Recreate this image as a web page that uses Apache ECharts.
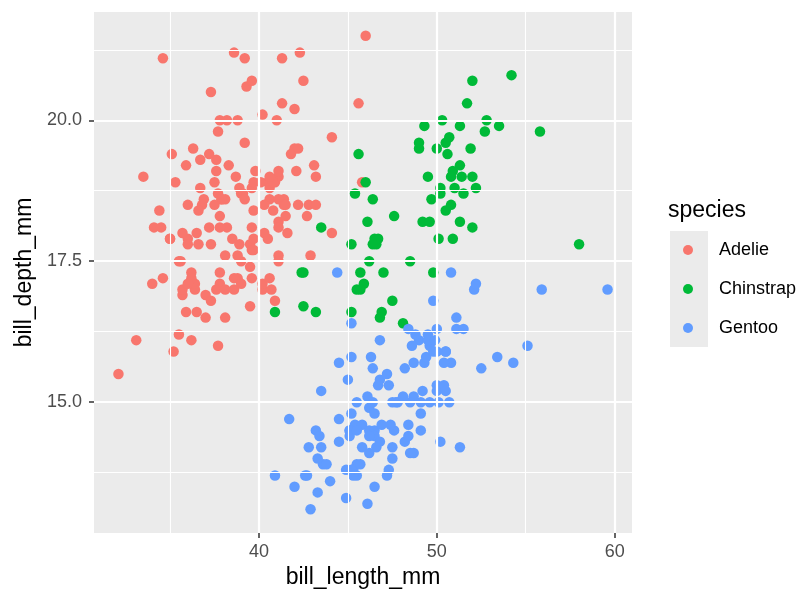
<!DOCTYPE html>
<html>
<head>
<meta charset="utf-8">
<script src="https://cdn.jsdelivr.net/npm/echarts@6/dist/echarts.min.js"></script>
<style>
  html, body { margin: 0; padding: 0; background: #fff; }
  #chart { width: 805px; height: 591px; }
</style>
</head>
<body>
<div id="chart"></div>
<script>
var speciesNames = ['Adelie', 'Chinstrap', 'Gentoo'];
var speciesColors = ['#F8766D', '#00BA38', '#619CFF'];

var adelieLength = [39.1, 39.5, 40.3, 36.7, 39.3, 38.9, 39.2, 34.1, 42.0, 37.8, 37.8, 41.1, 38.6, 34.6, 36.6, 38.7, 42.5, 34.4, 46.0,
  37.8, 37.7, 35.9, 38.2, 38.8, 35.3, 40.6, 40.5, 37.9, 40.5, 39.5, 37.2, 39.5, 40.9, 36.4, 39.2, 38.8, 42.2, 37.6, 39.8,
  36.5, 40.8, 36.0, 44.1, 37.0, 39.6, 41.1, 37.5, 36.0, 42.3, 39.6, 40.1, 35.0, 42.0, 34.5, 41.4, 39.0, 40.6, 36.5, 37.6,
  35.7, 41.3, 37.6, 41.1, 36.4, 41.6, 35.5, 41.1, 35.9, 41.8, 33.5, 39.7, 39.6, 45.8, 35.5, 42.8, 40.9, 37.2, 36.2, 42.1,
  34.6, 42.9, 36.7, 35.1, 37.3, 41.3, 36.3, 36.9, 38.3, 38.9, 35.7, 41.1, 34.0, 39.6, 36.2, 40.8, 38.1, 40.3, 33.1, 43.2,
  35.0, 41.0, 37.7, 37.8, 37.9, 39.7, 38.6, 38.2, 38.1, 43.2, 38.1, 45.6, 39.7, 42.2, 39.6, 42.7, 38.6, 37.3, 35.7, 41.1,
  36.2, 37.7, 40.2, 41.4, 35.2, 40.6, 38.8, 41.5, 39.0, 44.1, 38.5, 43.1, 36.8, 37.5, 38.1, 41.1, 35.6, 40.2, 37.0, 39.7,
  40.2, 40.6, 32.1, 40.7, 37.3, 39.0, 39.2, 36.6, 36.0, 37.8, 36.0, 41.5];
var adelieDepth = [18.7, 17.4, 18.0, 19.3, 20.6, 17.8, 19.6, 18.1, 20.2, 17.1, 17.3, 17.6, 21.2, 21.1, 17.8, 19.0, 20.7, 18.4, 21.5,
  18.3, 18.7, 19.2, 18.1, 17.2, 18.9, 18.6, 17.9, 18.6, 18.9, 16.7, 18.1, 17.8, 18.9, 17.0, 21.1, 20.0, 18.5, 19.3, 19.1,
  18.0, 18.4, 18.5, 19.7, 16.9, 18.8, 19.0, 18.9, 17.9, 21.2, 17.7, 18.9, 17.9, 19.5, 18.1, 18.6, 17.5, 18.8, 16.6, 19.1,
  16.9, 21.1, 17.0, 18.2, 17.1, 18.0, 16.2, 19.1, 16.6, 19.4, 19.0, 18.4, 17.2, 18.9, 17.5, 18.5, 16.8, 19.4, 16.1, 19.1,
  17.2, 17.6, 18.8, 19.4, 17.8, 20.3, 19.5, 18.6, 19.2, 18.8, 18.0, 18.1, 17.1, 18.1, 17.3, 18.9, 18.6, 18.5, 16.1, 18.5,
  17.9, 20.0, 16.0, 20.0, 18.6, 18.9, 17.2, 20.0, 17.0, 19.0, 16.5, 20.3, 17.7, 19.5, 20.7, 18.3, 17.0, 20.5, 17.0, 18.6,
  17.2, 19.8, 17.0, 18.5, 15.9, 19.0, 17.6, 18.3, 17.1, 18.0, 17.9, 19.2, 18.5, 18.5, 17.6, 17.5, 17.5, 20.1, 16.5, 17.9,
  17.1, 17.2, 15.5, 17.0, 16.8, 18.7, 18.6, 18.4, 17.8, 18.1, 17.1, 18.5];

var chinstrapLength = [46.5, 50.0, 51.3, 45.4, 52.7, 45.2, 46.1, 51.3, 46.0, 51.3, 46.6, 51.7, 47.0, 52.0, 45.9, 50.5, 50.3,
  58.0, 46.4, 49.2, 42.4, 48.5, 43.2, 50.6, 46.7, 52.0, 50.5, 49.5, 46.4, 52.8, 40.9, 54.2, 42.5, 51.0, 49.7, 47.5, 47.6,
  52.0, 46.9, 53.5, 49.0, 46.2, 50.9, 45.5, 50.9, 50.8, 50.1, 49.0, 51.5, 49.8, 48.1, 51.4, 45.7, 50.7, 42.5, 52.2, 45.2,
  49.3, 50.2, 45.6, 51.9, 46.8, 45.7, 55.8, 43.5, 49.6, 50.8, 50.2];
var chinstrapDepth = [17.9, 19.5, 19.2, 18.7, 19.8, 17.8, 18.2, 18.2, 18.9, 19.9, 17.8, 20.3, 17.3, 18.1, 17.1, 19.6, 20.0,
  17.8, 18.6, 18.2, 17.3, 17.5, 16.6, 19.4, 17.9, 19.0, 18.4, 19.0, 17.8, 20.0, 16.6, 20.8, 16.7, 18.8, 18.6, 16.8, 18.3,
  20.7, 16.6, 19.9, 19.5, 17.5, 19.1, 17.0, 17.9, 18.5, 17.9, 19.6, 18.7, 17.3, 16.4, 19.0, 17.3, 19.7, 17.3, 18.8, 16.6,
  19.9, 18.8, 19.4, 19.5, 16.5, 17.0, 19.8, 18.1, 18.2, 19.0, 18.7];

var gentooLength = [46.1, 50.0, 48.7, 50.0, 47.6, 46.5, 45.4, 46.7, 43.3, 46.8, 40.9, 49.0, 45.5, 48.4, 45.8, 49.3, 42.0, 49.2,
  46.2, 48.7, 50.2, 45.1, 46.5, 46.3, 42.9, 46.1, 44.5, 47.8, 48.2, 50.0, 47.3, 42.8, 45.1, 59.6, 49.1, 48.4, 42.6, 44.4,
  44.0, 48.7, 42.7, 49.6, 45.3, 49.6, 50.5, 43.6, 45.5, 50.5, 44.9, 45.2, 46.6, 48.5, 45.1, 50.1, 46.5, 45.0, 43.8, 45.5,
  43.2, 50.4, 45.3, 46.2, 45.7, 54.3, 45.8, 49.8, 46.2, 49.5, 43.5, 50.7, 47.7, 46.4, 48.2, 46.5, 46.4, 48.6, 47.5, 51.1,
  45.2, 45.2, 49.1, 52.5, 47.4, 50.0, 44.9, 50.8, 43.4, 51.3, 47.5, 52.1, 47.5, 52.2, 45.5, 49.5, 44.5, 50.8, 49.4, 46.9,
  48.4, 51.1, 48.5, 55.9, 47.2, 49.1, 47.3, 46.8, 41.7, 53.4, 43.3, 48.1, 50.5, 49.8, 43.5, 51.5, 46.2, 55.1, 44.5, 48.8,
  47.2, 46.8, 50.4, 45.2, 49.9];
var gentooDepth = [13.2, 16.3, 14.1, 15.2, 14.5, 13.5, 14.6, 15.3, 13.4, 15.4, 13.7, 16.1, 13.7, 14.6, 14.6, 15.7, 13.5, 15.2,
  14.5, 15.1, 14.3, 14.5, 14.5, 15.8, 13.1, 15.1, 14.3, 15.0, 14.3, 15.3, 15.3, 14.2, 14.5, 17.0, 14.8, 16.3, 13.7, 17.3,
  13.6, 15.7, 13.7, 16.0, 13.7, 15.0, 15.9, 13.9, 13.9, 15.9, 13.3, 15.8, 14.2, 14.1, 14.4, 15.0, 14.4, 15.4, 13.9, 15.0,
  14.5, 15.3, 13.8, 14.9, 13.9, 15.7, 14.2, 16.8, 14.4, 16.2, 14.2, 15.0, 15.0, 15.6, 15.6, 14.8, 15.0, 16.0, 14.2, 16.3,
  13.8, 16.4, 14.5, 15.6, 14.6, 15.9, 13.8, 17.3, 14.4, 14.2, 14.0, 17.0, 15.0, 17.1, 14.5, 16.1, 14.7, 15.7, 15.8, 14.6,
  14.4, 16.5, 15.0, 17.0, 15.5, 15.0, 13.8, 16.1, 14.7, 15.8, 14.0, 15.1, 15.2, 15.9, 15.2, 16.3, 14.1, 16.0, 15.7, 16.2,
  13.7, 14.3, 15.7, 14.8, 16.1];

var xMajor = [40, 50, 60];
var xMinor = [35, 45, 55];
var yMajor = [15, 17.5, 20];
var yMinor = [13.75, 16.25, 18.75, 21.25];

function pairs(xs, ys) {
  return xs.map(function (x, i) { return [x, ys[i]]; });
}
var speciesData = [
  pairs(adelieLength, adelieDepth),
  pairs(chinstrapLength, chinstrapDepth),
  pairs(gentooLength, gentooDepth)
];

var chart = echarts.init(document.getElementById('chart'), null, { renderer: 'canvas' });

// panel grid lines (white, minor thinner)
var gridLines = [];
xMinor.forEach(function (v) { gridLines.push({ xAxis: v, lineStyle: { width: 1.1 } }); });
yMinor.forEach(function (v) { gridLines.push({ yAxis: v, lineStyle: { width: 1.1 } }); });
xMajor.forEach(function (v) { gridLines.push({ xAxis: v, lineStyle: { width: 2.2 } }); });
yMajor.forEach(function (v) { gridLines.push({ yAxis: v, lineStyle: { width: 2.2 } }); });

var series = [{
  type: 'scatter',
  name: 'grid',
  data: [],
  z: 1,
  silent: true,
  markLine: {
    silent: true,
    symbol: 'none',
    animation: false,
    label: { show: false },
    lineStyle: { color: '#FFFFFF', type: 'solid' },
    emphasis: { disabled: true },
    data: gridLines
  }
}];
speciesNames.forEach(function (name, i) {
  series.push({
    type: 'scatter',
    name: name,
    data: speciesData[i],
    symbol: 'circle',
    symbolSize: 10.5,
    z: 3,
    itemStyle: { color: speciesColors[i], opacity: 1 }
  });
});

var font = 'Liberation Sans';

option = {
  animation: false,
  backgroundColor: '#FFFFFF',
  textStyle: { fontFamily: font },
  title: {
    text: 'species',
    left: 668,
    top: 199,
    padding: 0,
    textStyle: { fontSize: 23, fontWeight: 'normal', color: '#000000', fontFamily: font }
  },
  legend: {
    data: speciesNames,
    orient: 'vertical',
    left: 683,
    top: 240,
    itemWidth: 10,
    itemHeight: 10,
    itemGap: 19,
    icon: 'circle',
    padding: 0,
    textStyle: { fontSize: 18, color: '#000000', lineHeight: 20, padding: [0, 0, 0, 21], fontFamily: font }
  },
  graphic: [{
    type: 'rect',
    shape: { x: 670, y: 231, width: 38, height: 116 },
    style: { fill: '#EBEBEB' },
    z: -1
  }],
  grid: {
    left: 94,
    right: 173,
    top: 12,
    bottom: 58,
    outerBoundsMode: 'none',
    containLabel: false,
    show: true,
    backgroundColor: '#EBEBEB',
    borderWidth: 0
  },
  xAxis: {
    type: 'value',
    min: 30.725,
    max: 60.975,
    name: 'bill_length_mm',
    nameLocation: 'middle',
    nameGap: 33,
    nameTextStyle: { fontSize: 23, color: '#000000', fontFamily: font },
    axisLine: { show: false },
    axisTick: { show: true, customValues: xMajor, length: 5, lineStyle: { color: '#333333', width: 1.5 } },
    axisLabel: { customValues: xMajor, fontSize: 18, color: '#4D4D4D', margin: 10, fontFamily: font },
    splitLine: { show: false }
  },
  yAxis: {
    type: 'value',
    min: 12.68,
    max: 21.92,
    name: 'bill_depth_mm',
    nameLocation: 'middle',
    nameGap: 55,
    nameTextStyle: { fontSize: 23, color: '#000000', fontFamily: font },
    axisLine: { show: false },
    axisTick: { show: true, customValues: yMajor, length: 5, lineStyle: { color: '#333333', width: 1.5 } },
    axisLabel: {
      customValues: yMajor, fontSize: 18, color: '#4D4D4D', margin: 12, fontFamily: font,
      formatter: function (v) { return v.toFixed(1); }
    },
    splitLine: { show: false }
  },
  series: series
};

chart.setOption(option);
</script>
</body>
</html>
